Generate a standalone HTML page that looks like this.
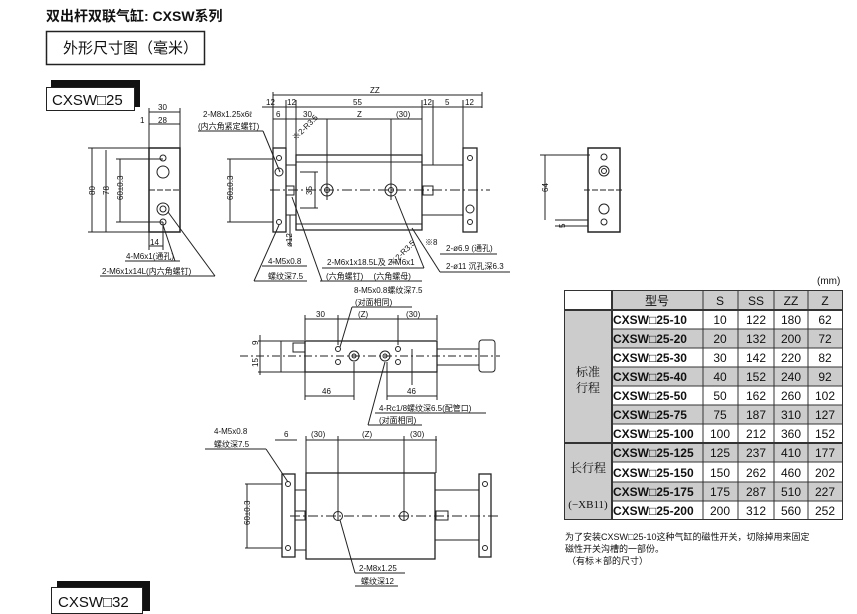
<!DOCTYPE html>
<html><head><meta charset="utf-8"><style>
body{margin:0;background:#fff}
svg{display:block}
text{font-family:"Liberation Sans","Noto Sans CJK SC",sans-serif;fill:#111}
.s{font-size:8px}
.t{font-size:10px}
</style></head><body>
<svg width="857" height="614" viewBox="0 0 857 614" xmlns="http://www.w3.org/2000/svg">
<g stroke="#222" fill="none" stroke-width="1">
<text x="46" y="21" style="font-size:14px;font-weight:bold" stroke="none">双出杆双联气缸: CXSW系列</text>
<rect x="46.5" y="31.5" width="158" height="33" stroke-width="1.5"/>
<text x="63" y="53" style="font-size:15px" stroke="none">外形尺寸图（毫米）</text>
<rect x="51" y="80" width="89" height="27" fill="#111" stroke="none"/>
<rect x="46.5" y="87.5" width="88" height="23" fill="#fff"/>
<text x="52" y="105" style="font-size:15px" stroke="none">CXSW□25</text>

<rect x="149" y="148" width="31" height="84" stroke-width="1.5"/>
<circle cx="163" cy="158" r="3"/><circle cx="163" cy="172" r="6"/><circle cx="163" cy="209" r="6"/><circle cx="163" cy="209" r="3"/><circle cx="163" cy="222" r="3"/>
<line x1="149" y1="190" x2="180" y2="190" stroke-dasharray="6,2"/>
<line x1="149" y1="112" x2="180" y2="112"/><line x1="149" y1="124" x2="180" y2="124"/>
<line x1="149" y1="108" x2="149" y2="148"/><line x1="180" y1="108" x2="180" y2="148"/>
<text x="158" y="110" class="s" stroke="none">30</text><text x="158" y="123" class="s" stroke="none">28</text><text x="140" y="123" class="s" stroke="none">1</text>
<line x1="92" y1="148" x2="92" y2="232"/><line x1="106" y1="150" x2="106" y2="232"/><line x1="120" y1="159" x2="120" y2="222"/>
<line x1="88" y1="148" x2="149" y2="148"/><line x1="88" y1="232" x2="149" y2="232"/><line x1="116" y1="159" x2="163" y2="159"/><line x1="116" y1="222" x2="163" y2="222"/>
<text x="95" y="195" class="s" stroke="none" transform="rotate(-90 95 195)">80</text>
<text x="109" y="195" class="s" stroke="none" transform="rotate(-90 109 195)">78</text>
<text x="123" y="200" class="s" stroke="none" transform="rotate(-90 123 200)">60±0.3</text>
<line x1="149" y1="232" x2="149" y2="250"/><line x1="163" y1="222" x2="163" y2="250"/><line x1="149" y1="246" x2="163" y2="246"/>
<text x="150" y="245" class="s" stroke="none">14</text>
<text x="126" y="259" class="s" stroke="none">4-M6x1(通孔)</text><line x1="125" y1="261" x2="180" y2="261"/>
<text x="102" y="274" class="s" stroke="none">2-M6x1x14L(内六角螺钉)</text><line x1="100" y1="276" x2="215" y2="276"/>
<line x1="168" y1="212" x2="215" y2="276"/><line x1="163" y1="225" x2="175" y2="261"/>

<line x1="273" y1="95" x2="482" y2="95"/><text x="370" y="93" class="s" stroke="none">ZZ</text>
<line x1="273" y1="92" x2="273" y2="148"/><line x1="482" y1="92" x2="482" y2="108"/>
<line x1="262" y1="107" x2="482" y2="107"/>
<line x1="286" y1="100" x2="286" y2="148"/><line x1="296" y1="100" x2="296" y2="165"/><line x1="422" y1="100" x2="422" y2="155"/><line x1="433" y1="100" x2="433" y2="165"/><line x1="463" y1="100" x2="463" y2="148"/>
<text x="266" y="105" class="s" stroke="none">12</text><text x="287" y="105" class="s" stroke="none">12</text><text x="353" y="105" class="s" stroke="none">55</text><text x="423" y="105" class="s" stroke="none">12</text><text x="445" y="105" class="s" stroke="none">5</text><text x="465" y="105" class="s" stroke="none">12</text>
<line x1="273" y1="119" x2="422" y2="119"/>
<text x="276" y="117" class="s" stroke="none">6</text><text x="303" y="117" class="s" stroke="none">30</text><text x="357" y="117" class="s" stroke="none">Z</text><text x="396" y="117" class="s" stroke="none">(30)</text>
<line x1="327" y1="119" x2="327" y2="200"/><line x1="391" y1="119" x2="391" y2="200"/>
<text x="203" y="117" class="s" stroke="none">2-M8x1.25x6ℓ</text><text x="198" y="129" class="s" stroke="none">(内六角紧定螺钉)</text>
<line x1="198" y1="131" x2="263" y2="131"/><line x1="263" y1="131" x2="280" y2="172"/>
<rect x="273" y="148" width="13" height="84" stroke-width="1.3"/>
<circle cx="279" cy="158" r="2.5"/><circle cx="279" cy="172" r="4"/><circle cx="279" cy="222" r="2.5"/>
<rect x="286" y="165" width="10" height="50"/>
<rect x="286" y="186" width="8" height="9"/>
<path d="M296 155 H422 V230 H296 Z" stroke-width="1.3"/>
<line x1="296" y1="162" x2="422" y2="162"/><line x1="296" y1="224" x2="422" y2="224"/>
<line x1="270" y1="190" x2="490" y2="190" stroke-dasharray="10,3,2,3"/>
<circle cx="327" cy="190" r="6"/><circle cx="327" cy="190" r="2.5"/>
<circle cx="391" cy="190" r="6"/><circle cx="391" cy="190" r="2.5"/>
<line x1="422" y1="165" x2="463" y2="165"/><line x1="422" y1="215" x2="463" y2="215"/>
<rect x="423" y="186" width="10" height="9"/>
<rect x="463" y="148" width="14" height="84" stroke-width="1.3"/>
<circle cx="470" cy="158" r="2.5"/><circle cx="470" cy="209" r="4"/><circle cx="470" cy="222" r="2.5"/>
<line x1="227" y1="159" x2="273" y2="159"/><line x1="227" y1="222" x2="273" y2="222"/><line x1="230" y1="159" x2="230" y2="222"/>
<text x="233" y="200" class="s" stroke="none" transform="rotate(-90 233 200)">60±0.3</text>
<line x1="300" y1="172" x2="318" y2="172"/><line x1="300" y1="208" x2="318" y2="208"/><line x1="315" y1="172" x2="315" y2="208"/>
<text x="312" y="195" class="s" stroke="none" transform="rotate(-90 312 195)">35</text>
<line x1="290" y1="215" x2="290" y2="245"/><text x="292" y="247" class="s" stroke="none" transform="rotate(-90 292 247)">ø12</text>
<text x="298" y="134" class="s" stroke="none" transform="rotate(-45 305 140)">※2-R3.5</text>
<text x="380" y="255" class="s" stroke="none" transform="rotate(-45 400 245)">※2-R3.5</text>
<text x="425" y="245" class="s" stroke="none">※8</text>
<text x="268" y="264" class="s" stroke="none">4-M5x0.8</text><line x1="262" y1="266" x2="307" y2="266"/>
<text x="268" y="279" class="s" stroke="none">螺纹深7.5</text><line x1="254" y1="281" x2="307" y2="281"/>
<line x1="254" y1="281" x2="279" y2="225"/>
<text x="327" y="265" class="s" stroke="none">2-M6x1x18.5L及 2-M6x1</text>
<text x="326" y="279" class="s" stroke="none">(六角螺钉)　 (六角螺母)</text><line x1="322" y1="268" x2="424" y2="268"/><line x1="320" y1="281" x2="422" y2="281"/>
<line x1="292" y1="197" x2="322" y2="281"/><line x1="395" y1="196" x2="424" y2="268"/>
<text x="446" y="251" class="s" stroke="none">2-ø6.9 (通孔)</text><line x1="440" y1="254" x2="497" y2="254"/>
<text x="446" y="269" class="s" stroke="none">2-ø11 沉孔深6.3</text><line x1="440" y1="272" x2="510" y2="272"/>
<line x1="412" y1="228" x2="440" y2="272"/>

<rect x="588" y="148" width="32" height="84" stroke-width="1.5"/>
<circle cx="604" cy="157" r="3"/><circle cx="604" cy="171" r="5"/><circle cx="604" cy="171" r="2.5"/><circle cx="604" cy="209" r="5"/><circle cx="604" cy="222" r="3"/>
<line x1="584" y1="190" x2="624" y2="190" stroke-dasharray="6,2"/>
<line x1="540" y1="155" x2="590" y2="155"/><line x1="545" y1="155" x2="545" y2="220"/>
<text x="548" y="192" class="s" stroke="none" transform="rotate(-90 548 192)">64</text>
<line x1="555" y1="220" x2="588" y2="220"/><line x1="555" y1="226" x2="588" y2="226"/>
<text x="565" y="228" class="s" stroke="none" transform="rotate(-90 565 228)">5</text>

<text x="354" y="293" class="s" stroke="none">8-M5x0.8螺纹深7.5</text>
<text x="355" y="305" class="s" stroke="none">(对面相同)</text><line x1="352" y1="307" x2="412" y2="307"/>
<line x1="352" y1="307" x2="340" y2="347"/>
<line x1="305" y1="319" x2="437" y2="319"/>
<line x1="305" y1="315" x2="305" y2="340"/><line x1="338" y1="315" x2="338" y2="345"/><line x1="398" y1="315" x2="398" y2="345"/><line x1="437" y1="315" x2="437" y2="340"/>
<text x="316" y="317" class="s" stroke="none">30</text><text x="358" y="317" class="s" stroke="none">(Z)</text><text x="406" y="317" class="s" stroke="none">(30)</text>
<rect x="305" y="341" width="132" height="31" stroke-width="1.3"/>
<rect x="281" y="341" width="24" height="31"/><rect x="293" y="343" width="12" height="9"/>
<circle cx="338" cy="349" r="2.5"/><circle cx="338" cy="362" r="2.5"/><circle cx="398" cy="349" r="2.5"/><circle cx="398" cy="362" r="2.5"/>
<circle cx="354" cy="356" r="5"/><circle cx="354" cy="356" r="2"/><circle cx="385" cy="356" r="5"/><circle cx="385" cy="356" r="2"/>
<line x1="240" y1="356" x2="500" y2="356" stroke-dasharray="8,3,2,3"/>
<rect x="437" y="349" width="42" height="16"/><rect x="479" y="340" width="16" height="32" rx="3"/>
<line x1="258" y1="341" x2="281" y2="341"/><line x1="258" y1="372" x2="281" y2="372"/><line x1="260" y1="335" x2="260" y2="375"/>
<text x="258" y="345" class="s" stroke="none" transform="rotate(-90 258 345)">9</text><text x="258" y="367" class="s" stroke="none" transform="rotate(-90 258 367)">15</text>
<line x1="305" y1="372" x2="305" y2="400"/><line x1="354" y1="362" x2="354" y2="400"/><line x1="305" y1="396" x2="354" y2="396"/>
<text x="322" y="394" class="s" stroke="none">46</text>
<line x1="387" y1="362" x2="387" y2="400"/><line x1="437" y1="372" x2="437" y2="400"/><line x1="387" y1="396" x2="437" y2="396"/>
<text x="407" y="394" class="s" stroke="none">46</text>
<line x1="412" y1="349" x2="412" y2="385"/>
<text x="379" y="411" class="s" stroke="none">4-Rc1/8螺纹深6.5(配管口)</text><line x1="375" y1="413" x2="486" y2="413"/>
<text x="379" y="423" class="s" stroke="none">(对面相同)</text><line x1="368" y1="425" x2="422" y2="425"/>
<line x1="368" y1="425" x2="385" y2="362"/>

<text x="214" y="434" class="s" stroke="none">4-M5x0.8</text>
<text x="214" y="447" class="s" stroke="none">螺纹深7.5</text><line x1="205" y1="449" x2="266" y2="449"/>
<line x1="266" y1="449" x2="288" y2="482"/>
<line x1="275" y1="440" x2="297" y2="440"/><text x="284" y="437" class="s" stroke="none">6</text>
<line x1="306" y1="440" x2="437" y2="440"/>
<text x="311" y="437" class="s" stroke="none">(30)</text><text x="362" y="437" class="s" stroke="none">(Z)</text><text x="410" y="437" class="s" stroke="none">(30)</text>
<line x1="306" y1="436" x2="306" y2="473"/><line x1="338" y1="436" x2="338" y2="520"/><line x1="404" y1="436" x2="404" y2="520"/><line x1="436" y1="436" x2="436" y2="473"/>
<rect x="282" y="474" width="13" height="83" stroke-width="1.3"/>
<circle cx="288" cy="484" r="2.5"/><circle cx="288" cy="548" r="2.5"/>
<rect x="295" y="490" width="11" height="60"/>
<rect x="306" y="473" width="129" height="86" stroke-width="1.3"/>
<line x1="290" y1="516" x2="498" y2="516" stroke-dasharray="10,3,2,3"/>
<circle cx="338" cy="516" r="4.5"/><circle cx="404" cy="516" r="4.5"/>
<line x1="435" y1="490" x2="479" y2="490"/><line x1="435" y1="540" x2="479" y2="540"/>
<rect x="436" y="511" width="12" height="9"/><rect x="295" y="511" width="10" height="9"/>
<rect x="479" y="474" width="12" height="83" stroke-width="1.3"/>
<circle cx="485" cy="484" r="2.5"/><circle cx="485" cy="548" r="2.5"/>
<line x1="245" y1="484" x2="282" y2="484"/><line x1="245" y1="548" x2="282" y2="548"/><line x1="247" y1="484" x2="247" y2="548"/>
<text x="250" y="525" class="s" stroke="none" transform="rotate(-90 250 525)">60±0.3</text>
<text x="359" y="571" class="s" stroke="none">2-M8x1.25</text><line x1="355" y1="573" x2="405" y2="573"/>
<text x="361" y="584" class="s" stroke="none">螺纹深12</text><line x1="355" y1="586" x2="398" y2="586"/>
<line x1="355" y1="573" x2="340" y2="520"/>

<rect x="57" y="581" width="93" height="30" fill="#111" stroke="none"/>
<rect x="51.5" y="587.5" width="91" height="26" fill="#fff"/>
<text x="58" y="607" style="font-size:15px" stroke="none">CXSW□32</text>
</g>

<g font-size="11">
<text x="817" y="284" class="t">(mm)</text>
<rect x="612" y="290" width="231" height="20" fill="#ccc"/>
<rect x="564" y="310" width="48" height="210" fill="#ccc"/>
<rect x="612" y="329" width="231" height="19" fill="#ccc"/>
<rect x="612" y="367" width="231" height="19" fill="#ccc"/>
<rect x="612" y="405" width="231" height="19" fill="#ccc"/>
<rect x="612" y="443" width="231" height="19" fill="#ccc"/>
<rect x="612" y="482" width="231" height="19" fill="#ccc"/>
<g stroke="#333" stroke-width="1" fill="none">
<rect x="564.5" y="290.5" width="278" height="229"/>
<line x1="612" y1="290" x2="612" y2="520" stroke-width="2"/>
<line x1="703" y1="290" x2="703" y2="520"/><line x1="738" y1="290" x2="738" y2="520"/><line x1="774" y1="290" x2="774" y2="520"/><line x1="808" y1="290" x2="808" y2="520"/>
<line x1="564" y1="310" x2="843" y2="310" stroke-width="2"/>
<line x1="612" y1="329" x2="843" y2="329"/><line x1="612" y1="348" x2="843" y2="348"/><line x1="612" y1="367" x2="843" y2="367"/><line x1="612" y1="386" x2="843" y2="386"/><line x1="612" y1="405" x2="843" y2="405"/><line x1="612" y1="424" x2="843" y2="424"/>
<line x1="564" y1="443" x2="843" y2="443" stroke-width="2"/>
<line x1="612" y1="462" x2="843" y2="462"/><line x1="612" y1="482" x2="843" y2="482"/><line x1="612" y1="501" x2="843" y2="501"/>
</g>
<g font-size="12" text-anchor="middle">
<text x="657" y="305">型号</text><text x="720" y="305">S</text><text x="756" y="305">SS</text><text x="791" y="305">ZZ</text><text x="825" y="305">Z</text>
</g>
<g font-size="12" style="font-weight:bold">
<text x="613" y="324">CXSW□25-10</text><text x="613" y="343">CXSW□25-20</text><text x="613" y="362">CXSW□25-30</text><text x="613" y="381">CXSW□25-40</text><text x="613" y="400">CXSW□25-50</text><text x="613" y="419">CXSW□25-75</text><text x="613" y="438">CXSW□25-100</text><text x="613" y="457">CXSW□25-125</text><text x="613" y="477">CXSW□25-150</text><text x="613" y="496">CXSW□25-175</text><text x="613" y="515">CXSW□25-200</text>
</g>
<g font-size="12" text-anchor="middle">
<text x="720" y="324">10</text><text x="756" y="324">122</text><text x="791" y="324">180</text><text x="825" y="324">62</text>
<text x="720" y="343">20</text><text x="756" y="343">132</text><text x="791" y="343">200</text><text x="825" y="343">72</text>
<text x="720" y="362">30</text><text x="756" y="362">142</text><text x="791" y="362">220</text><text x="825" y="362">82</text>
<text x="720" y="381">40</text><text x="756" y="381">152</text><text x="791" y="381">240</text><text x="825" y="381">92</text>
<text x="720" y="400">50</text><text x="756" y="400">162</text><text x="791" y="400">260</text><text x="825" y="400">102</text>
<text x="720" y="419">75</text><text x="756" y="419">187</text><text x="791" y="419">310</text><text x="825" y="419">127</text>
<text x="720" y="438">100</text><text x="756" y="438">212</text><text x="791" y="438">360</text><text x="825" y="438">152</text>
<text x="720" y="457">125</text><text x="756" y="457">237</text><text x="791" y="457">410</text><text x="825" y="457">177</text>
<text x="720" y="477">150</text><text x="756" y="477">262</text><text x="791" y="477">460</text><text x="825" y="477">202</text>
<text x="720" y="496">175</text><text x="756" y="496">287</text><text x="791" y="496">510</text><text x="825" y="496">227</text>
<text x="720" y="515">200</text><text x="756" y="515">312</text><text x="791" y="515">560</text><text x="825" y="515">252</text>
<text x="588" y="376" style="font-family:'Liberation Serif','Noto Serif CJK SC',serif" fill="#444">标准</text>
<text x="588" y="392" style="font-family:'Liberation Serif','Noto Serif CJK SC',serif" fill="#444">行程</text>
<text x="588" y="472" style="font-family:'Liberation Serif','Noto Serif CJK SC',serif" fill="#444">长行程</text>
<text x="588" y="508" font-size="11" style="font-family:'Liberation Serif','Noto Serif CJK SC',serif" fill="#444">(−XB11)</text>
</g>
<g font-size="9">
<text x="565" y="540">为了安装CXSW□25-10这种气缸的磁性开关，切除掉用来固定</text>
<text x="565" y="552">磁性开关沟槽的一部份。</text>
<text x="567" y="564">（有标＊部的尺寸）</text>
</g>
</g>
</svg>
</body></html>
